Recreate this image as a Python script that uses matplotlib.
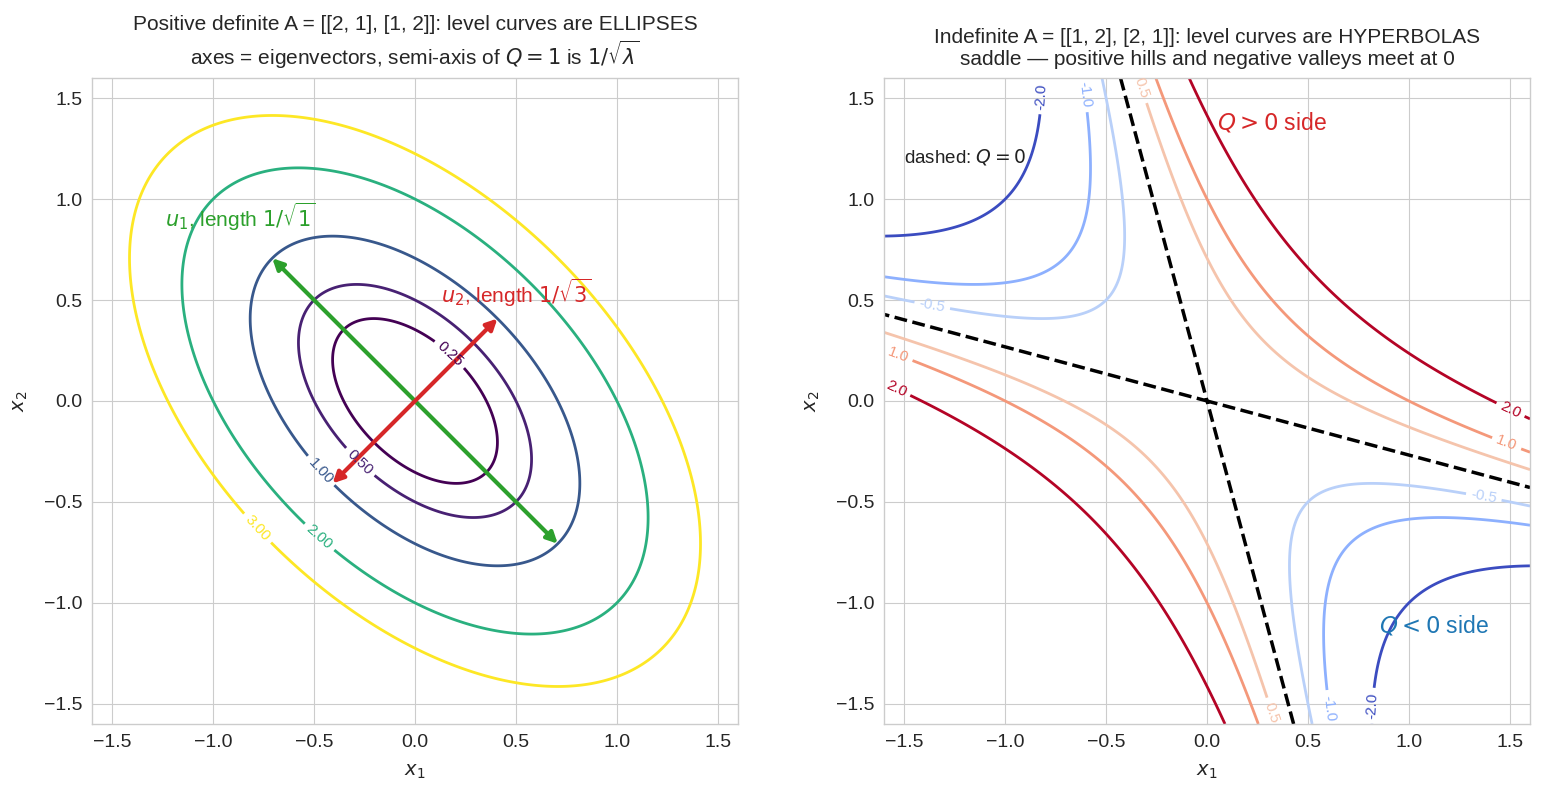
import numpy as np
import matplotlib.pyplot as plt

plt.style.use("seaborn-v0_8-whitegrid")
plt.rcParams["font.family"] = ["Liberation Sans", "DejaVu Sans"]

# quadratic forms
A_pos = np.array([[2.0, 1.0], [1.0, 2.0]])
A_ind = np.array([[1.0, 2.0], [2.0, 1.0]])
levels_pos = [0.25, 0.5, 1.0, 2.0, 3.0]
levels_ind = [-2.0, -1.0, -0.5, 0.5, 1.0, 2.0]
lim = 1.6

# where the contour labels sit (approximate)
label_spots_pos = [(0.18, 0.24), (-0.27, -0.30), (-0.46, -0.34),
                   (-0.47, -0.67), (-0.78, -0.63)]
label_spots_ind = [(-0.83, 1.51), (-0.60, 1.52), (-0.32, 1.55),
                   (-1.36, 0.48), (-1.53, 0.23), (-1.54, 0.06),
                   (1.50, -0.05), (1.48, -0.22), (1.37, -0.48),
                   (0.33, -1.54), (0.61, -1.52), (0.82, -1.51)]


def quad(A, X, Y):
    return A[0, 0] * X**2 + (A[0, 1] + A[1, 0]) * X * Y + A[1, 1] * Y**2


g = np.linspace(-lim, lim, 500)
X, Y = np.meshgrid(g, g)

fig, (ax1, ax2) = plt.subplots(1, 2, figsize=(15.46, 7.94), dpi=100)
fig.subplots_adjust(left=0.0595, right=0.9897, top=0.9018, bottom=0.0882,
                    wspace=0.226)

# --- positive definite ---
Z1 = quad(A_pos, X, Y)
cs1 = ax1.contour(X, Y, Z1, levels=levels_pos, cmap="viridis", linewidths=2)
ax1.clabel(cs1, inline=True, fmt="%.2f", fontsize=11, manual=label_spots_pos)

evals, evecs = np.linalg.eigh(A_pos)
arrow_cols = ["#2ca02c", "#d62728"]
for k in range(2):
    v = evecs[:, k] / np.sqrt(evals[k])
    if v[1] < 0:
        v = -v
    ax1.annotate("", xy=v, xytext=-v,
                 arrowprops=dict(arrowstyle="<|-|>", lw=3, color=arrow_cols[k],
                                 mutation_scale=16, shrinkA=0, shrinkB=0))
ax1.text(-1.24, 0.91, r"$u_1$, length $1/\sqrt{1}$", color=arrow_cols[0],
         fontsize=15, va="center")
ax1.text(0.13, 0.535, r"$u_2$, length $1/\sqrt{3}$", color=arrow_cols[1],
         fontsize=15, va="center")

ax1.set_title("Positive definite A = [[2, 1], [1, 2]]: level curves are ELLIPSES\n"
              r"axes = eigenvectors, semi-axis of $Q=1$ is $1/\sqrt{\lambda}$",
              fontsize=15, pad=9)

# --- indefinite ---
Z2 = quad(A_ind, X, Y)
cs2 = ax2.contour(X, Y, Z2, levels=levels_ind, cmap="coolwarm", linewidths=2)
ax2.clabel(cs2, inline=True, fmt="%.1f", fontsize=11, manual=label_spots_ind)
ax2.contour(X, Y, Z2, levels=[0.0], colors="black", linestyles="--", linewidths=2.5)
ax2.text(0.05, 1.38, r"$Q>0$ side", color="#d62728", fontsize=16.5, va="center")
ax2.text(0.85, -1.11, r"$Q<0$ side", color="#1f77b4", fontsize=16.5, va="center")
ax2.text(-1.5, 1.21, r"dashed: $Q=0$", color="#222222", fontsize=13.5, va="center")

ax2.set_title("Indefinite A = [[1, 2], [2, 1]]: level curves are HYPERBOLAS\n"
              "saddle \u2014 positive hills and negative valleys meet at 0",
              fontsize=15, pad=9)

for ax in (ax1, ax2):
    ax.set_xlim(-lim, lim)
    ax.set_ylim(-lim, lim)
    ax.set_aspect("equal")
    ax.set_xlabel("$x_1$", fontsize=14, labelpad=9)
    ax.set_ylabel("$x_2$", fontsize=14, labelpad=10)
    ax.tick_params(labelsize=14, pad=7)
    for s in ax.spines.values():
        s.set_visible(True)
        s.set_color("#cccccc")

fig.savefig("out.png")
